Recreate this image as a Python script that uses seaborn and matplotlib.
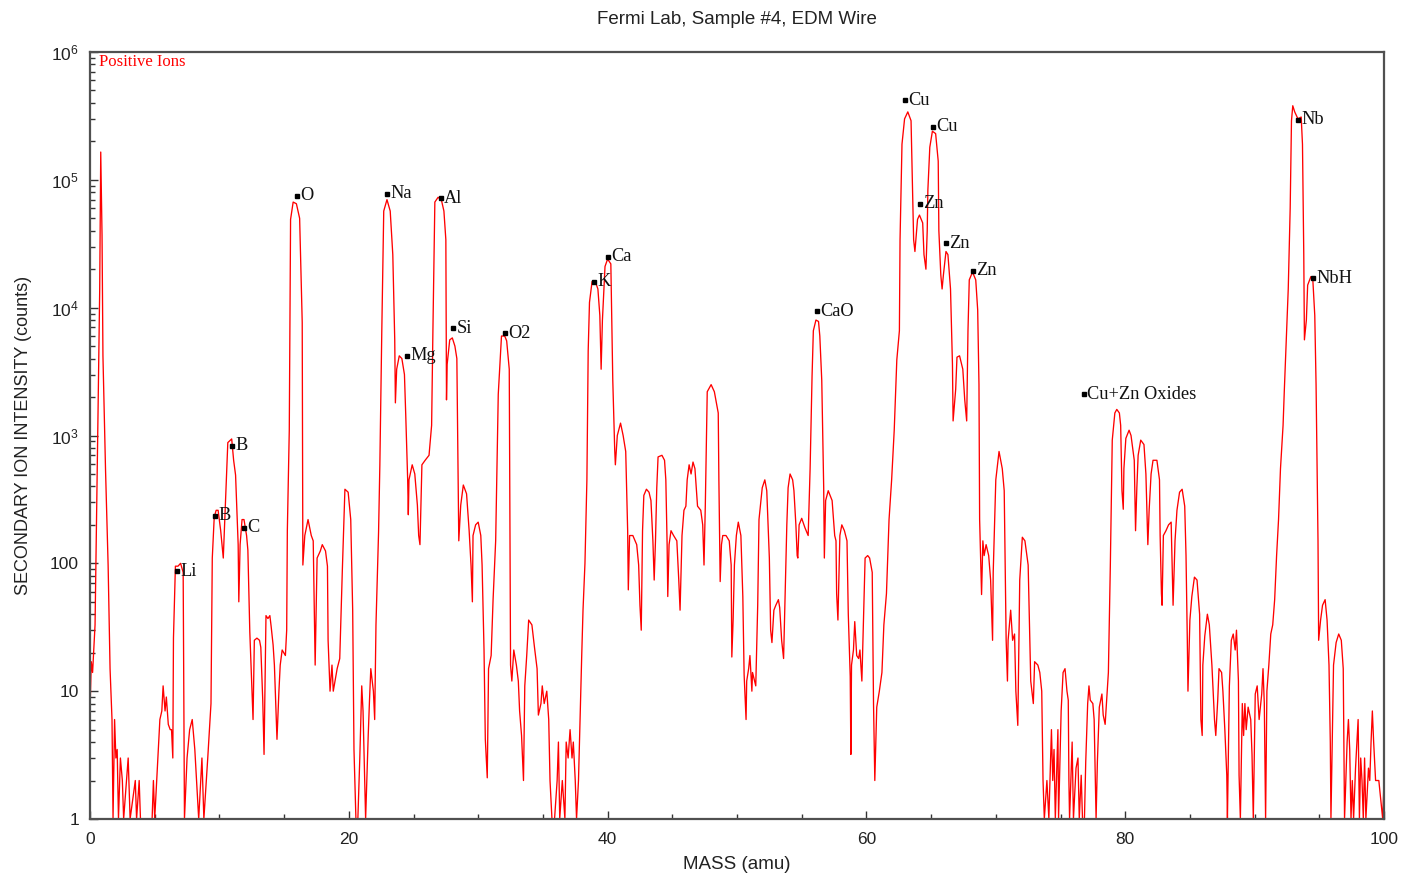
import matplotlib
matplotlib.use("Agg")
import matplotlib.pyplot as plt
import matplotlib.ticker as mticker
import seaborn as sns
import pandas as pd

# ---------------- data (mass in amu, intensity in counts) ----------------
mass_a = [0.0, 0.1, 0.2, 0.39, 0.5, 0.62, 0.75, 0.83, 0.93, 1.0, 1.2, 1.4, 1.55, 1.7, 1.78, 1.9, 2.0, 2.1, 2.2, 2.35,
          2.5, 2.6, 2.95, 3.1, 3.5, 3.6, 3.8, 3.9, 4.8, 4.9, 5.0, 5.25, 5.4, 5.55, 5.65, 5.8, 5.9, 6.05, 6.2, 6.3, 6.4,
          6.45, 6.6, 6.8, 7.0, 7.2, 7.3, 7.5, 7.7, 7.9, 8.1, 8.4, 8.65, 8.8, 9.1, 9.35, 9.45, 9.6, 9.75, 9.9, 10.1,
          10.3, 10.45, 10.65, 10.95, 11.1, 11.25, 11.45, 11.5, 11.6, 11.75, 11.9, 12.1, 12.2, 12.35, 12.5, 12.6,
          12.7, 12.9, 13.1, 13.2, 13.35, 13.45, 13.6, 13.75, 13.9, 14.0, 14.15, 14.25, 14.45, 14.6, 14.7, 14.85,
          15.1, 15.2]
int_a = [7, 17, 14, 33, 200, 1500, 1.4e4, 1.65e5, 3.7e4, 4200, 540, 97, 15, 6, 1, 6, 3, 3.5, 1, 3,
         2, 1, 3, 1, 2, 1, 2, 1, 1, 2, 1, 3, 6, 7, 11, 7, 9, 5.5, 5, 5, 3,
         26, 95, 95, 100, 85, 1, 3, 5, 6, 3.5, 1, 3, 1, 3, 8, 110, 230, 260, 260, 180,
         110, 270, 880, 940, 640, 490, 140, 50, 140, 220, 220, 165, 127, 29, 11, 6,
         25, 26, 25, 22, 8.5, 3.2, 39, 37, 39, 32, 23, 16, 4.2, 10, 16, 21,
         19, 30]

mass_b = [15.25, 15.4, 15.5, 15.7, 15.95, 16.2, 16.4, 16.45, 16.6, 16.85, 17.1, 17.25, 17.4, 17.55, 17.8, 17.95,
          18.2, 18.35, 18.4, 18.55, 18.7, 18.8, 19.1, 19.3, 19.5, 19.7, 19.95, 20.15, 20.3, 20.4, 20.55, 20.7,
          20.85, 21.0, 21.1, 21.3]
int_b = [180, 1100, 4.9e4, 6.7e4, 6.5e4, 5e4, 7700, 97, 165, 220, 165, 150, 16, 110, 125, 140,
         125, 95, 25, 10, 16, 10, 15, 18, 88, 380, 360, 220, 43, 3.5, 1, 1,
         3, 11, 7, 1]

mass_c = [21.5, 21.6, 21.7, 21.9, 22.0, 22.1, 22.2, 22.3, 22.4, 22.55, 22.7, 22.95, 23.2, 23.4, 23.55, 23.6, 23.7,
          23.9, 24.1, 24.3, 24.4, 24.55, 24.6, 24.65, 24.9, 25.1, 25.3, 25.4, 25.5, 25.65, 25.9, 26.2, 26.4, 26.5,
          26.65, 26.9, 27.15, 27.35, 27.5, 27.55, 27.6, 27.8, 28.0, 28.2, 28.35, 28.45, 28.5, 28.65, 28.85, 29.1,
          29.3, 29.45, 29.55, 29.6, 29.8, 30.0, 30.2, 30.3, 30.45, 30.55, 30.7, 30.8, 31.0, 31.15, 31.35, 31.55,
          31.8, 32.05, 32.2, 32.4]
int_c = [4.5, 8.5, 15, 10, 6, 33, 74, 175, 590, 6600, 5.7e4, 7e4, 5.7e4, 2.6e4, 5600, 1800, 3300,
         4200, 4000, 3000, 1450, 450, 240, 450, 590, 500, 285, 165, 140, 590, 640, 700, 1200, 6600,
         6.7e4, 7.3e4, 7e4, 5.7e4, 3.4e4, 1900, 3600, 5600, 5800, 5000, 4000, 500, 150, 285, 410, 350,
         180, 95, 50, 165, 200, 210, 165, 97, 21, 4.2, 2.1, 15, 19, 52, 150, 2100,
         6000, 6000, 5500, 3300]

mass_d = [32.45, 32.5, 32.6, 32.75, 32.95, 33.1, 33.2, 33.35, 33.5, 33.6, 33.75, 33.9, 34.15, 34.35, 34.55, 34.65,
          34.85, 34.95, 35.1, 35.3, 35.45, 35.55, 35.7, 35.9, 36.1, 36.2, 36.3, 36.5, 36.7, 36.8, 36.95, 37.1,
          37.25, 37.35, 37.5, 37.6, 37.75, 37.85, 38.0, 38.1, 38.25, 38.4, 38.5, 38.6, 38.8, 39.05, 39.25, 39.4,
          39.5, 39.6, 39.8, 40.0, 40.25, 40.4, 40.55, 40.6, 40.75, 41.0, 41.2, 41.4, 41.55, 41.6, 41.7, 41.95,
          42.25, 42.4, 42.5, 42.6, 42.7, 42.8, 43.0, 43.2]
int_d = [260, 16, 12, 21, 16, 12, 7, 4.5, 2, 11, 19, 36, 33, 22, 15, 6.5,
         8, 11, 8, 10, 6, 2, 1, 1, 2, 4, 1, 2, 1, 4, 3, 5,
         3, 4, 2, 1, 2, 5, 19, 43, 100, 450, 4600, 1.1e4, 1.6e4, 1.6e4, 1.4e4, 8700,
         3300, 8000, 2.1e4, 2.4e4, 2.2e4, 2700, 770, 590, 1000, 1250, 1000, 750, 180, 62, 165, 165,
         140, 97, 47, 30, 180, 340, 380, 360]

mass_e = [43.35, 43.5, 43.6, 43.7, 43.8, 43.9, 44.2, 44.4, 44.5, 44.6, 44.65, 44.75, 44.9, 45.1, 45.35, 45.5,
          45.6, 45.75, 45.9, 46.05, 46.15, 46.3, 46.45, 46.6, 46.75, 46.95, 47.2, 47.35, 47.45, 47.55, 47.7,
          48.0, 48.25, 48.55, 48.6, 48.7, 48.8, 48.9, 49.15, 49.4, 49.55, 49.6, 49.7, 49.8, 49.95, 50.1, 50.3,
          50.45, 50.55, 50.7, 50.75, 50.9, 51.0, 51.15, 51.2, 51.45, 51.6, 51.7, 51.95, 52.15, 52.3, 52.5, 52.6,
          52.7, 52.85, 53.0, 53.2, 53.3, 53.45, 53.6, 53.7, 53.85]
int_e = [310, 150, 74, 150, 390, 680, 700, 640, 450, 140, 55, 140, 180, 165, 150, 74,
         43, 165, 260, 280, 450, 590, 500, 620, 550, 280, 260, 200, 97, 280, 2200,
         2500, 2200, 1500, 450, 72, 140, 165, 165, 150, 97, 18.5, 36, 97, 165, 210, 165,
         55, 13.5, 6, 12, 15, 19, 10, 14, 11, 47, 220, 390, 450, 370, 110, 30,
         24, 43, 47, 52, 45, 25, 18, 47, 200]

mass_f = [53.95, 54.1, 54.3, 54.4, 54.55, 54.65, 54.7, 54.8, 55.0, 55.25, 55.5, 55.65, 55.8, 55.9, 56.1, 56.3,
          56.4, 56.55, 56.7, 56.75, 56.85, 57.05, 57.35, 57.55, 57.65, 57.7, 57.8, 57.95, 58.1, 58.3, 58.5, 58.6,
          58.75, 58.8, 58.85, 59.0, 59.1, 59.25, 59.4, 59.5, 59.65, 59.75, 59.9, 60.1, 60.25, 60.45, 60.55, 60.65,
          60.8, 61.0, 61.2, 61.35, 61.55, 61.75, 61.95, 62.15, 62.35, 62.55, 62.6, 62.75, 62.95, 63.2, 63.45,
          63.55, 63.65, 63.75, 63.95, 64.1, 64.35, 64.45, 64.6, 64.7]
int_f = [390, 500, 450, 370, 200, 115, 110, 200, 225, 190, 165, 550, 2900, 6600, 8000, 7800,
         6000, 2700, 390, 110, 310, 370, 310, 165, 150, 58, 36, 165, 200, 180, 150, 40,
         13, 3.2, 16, 21, 35, 19, 18, 21, 12, 30, 110, 115, 110, 85, 8, 2,
         7.5, 10, 14, 33, 58, 220, 450, 1100, 3900, 6600, 3.4e4, 1.9e5, 3.0e5, 3.4e5, 2.9e5,
         1e5, 3.4e4, 2.75e4, 4.9e4, 5.3e4, 4.6e4, 2.6e4, 2e4, 4e4]

mass_g = [64.75, 64.9, 65.1, 65.35, 65.55, 65.6, 65.75, 65.85, 65.95, 66.15, 66.3, 66.5, 66.65, 66.7, 66.9, 67.0,
          67.2, 67.45, 67.6, 67.75, 67.85, 67.95, 68.2, 68.45, 68.6, 68.7, 68.75, 68.9, 69.0, 69.1, 69.25, 69.45,
          69.6, 69.75, 69.8, 70.0, 70.25, 70.5, 70.65, 70.8, 70.9, 70.95, 71.15, 71.3, 71.45, 71.55, 71.7, 71.85,
          72.05, 72.25, 72.5, 72.7, 72.9, 73.0, 73.25, 73.4, 73.55, 73.65, 73.75, 73.95, 74.1, 74.3, 74.4, 74.5,
          74.6, 74.8, 74.85, 75.05, 75.2, 75.35, 75.5, 75.6]
int_g = [8.3e4, 1.8e5, 2.4e5, 2.3e5, 1.4e5, 4e4, 1.8e4, 1.4e4, 1.8e4, 2.75e4, 2.6e4, 1.4e4, 3600, 1300, 2300, 4100,
         4200, 3300, 1900, 1300, 6600, 1.65e4, 1.9e4, 1.65e4, 9600, 2500, 220, 57, 150, 115, 140, 115,
         74, 25, 85, 450, 750, 550, 370, 25, 12, 25, 43, 25, 28, 10, 5.4, 74,
         160, 150, 97, 12, 8, 17, 16, 14, 10, 2, 1, 2, 1, 5, 2, 3.5,
         1, 5, 1, 7, 14, 15, 10, 8.5]

mass_h = [75.65, 75.7, 75.9, 76.0, 76.2, 76.35, 76.45, 76.6, 76.7, 76.85, 76.95, 77.1, 77.2, 77.3, 77.5, 77.6,
          77.75, 77.85, 78.0, 78.2, 78.3, 78.45, 78.55, 78.7, 78.85, 79.0, 79.2, 79.35, 79.55, 79.65, 79.75, 79.85,
          79.9, 80.05, 80.3, 80.45, 80.7, 80.8, 80.9, 81.0, 81.2, 81.45, 81.6, 81.75, 81.85, 82.0, 82.15, 82.45,
          82.65, 82.7, 82.8, 82.85, 82.95, 83.15, 83.35, 83.55, 83.65, 83.7, 83.85, 84.0, 84.2, 84.4, 84.6, 84.7,
          84.8, 84.85, 85.0, 85.15, 85.35, 85.55, 85.75, 85.85, 85.95, 86.0, 86.15, 86.35]
int_h = [2, 1, 4, 1, 2.5, 3, 1, 2.2, 1, 1, 2.8, 8, 11, 8.5, 8, 6,
         1, 2.8, 7.5, 9.5, 6.5, 5.5, 8, 14, 95, 920, 1500, 1600, 1500, 1200, 370, 265,
         550, 950, 1100, 1000, 640, 180, 390, 700, 920, 850, 500, 140, 260, 500, 640, 640,
         450, 165, 58, 47, 165, 180, 200, 210, 74, 47, 150, 260, 360, 380, 280, 115,
         25, 10, 36, 55, 78, 74, 40, 6, 4.5, 16, 27, 40]

mass_i = [86.5, 86.7, 86.9, 87.0, 87.15, 87.25, 87.45, 87.55, 87.7, 87.85, 87.9, 88.05, 88.2, 88.35, 88.5, 88.6,
          88.75, 88.8, 88.9, 89.05, 89.15, 89.25, 89.35, 89.5, 89.7, 89.8, 89.9, 90.05, 90.2, 90.35, 90.55, 90.65,
          90.75, 90.85, 90.95, 91.1, 91.25, 91.4, 91.55, 91.7, 91.85, 92.0, 92.2, 92.3, 92.45, 92.6, 92.75, 92.85,
          92.95, 93.1, 93.35, 93.6, 93.7, 93.8, 93.85, 94.0, 94.1, 94.35, 94.5, 94.65, 94.75, 94.9, 94.95, 95.1,
          95.25, 95.45, 95.6, 95.75, 95.85, 95.9, 96.1, 96.3, 96.5, 96.7, 96.85, 96.95, 97.15, 97.25, 97.35, 97.45,
          97.55, 97.65, 97.8, 98.0, 98.1, 98.2, 98.3, 98.4, 98.5, 98.6, 98.8, 98.9, 99.0, 99.1, 99.2, 99.35,
          99.6, 99.9, 100.0]
int_i = [33, 16, 6, 4.5, 8.5, 15, 14, 10, 5, 2.2, 1, 11, 25, 28, 21, 30,
         12, 2.2, 1, 8, 4.5, 8, 5, 7.5, 6, 3.2, 1, 9.5, 11, 6, 9.5, 15,
         8, 1, 10, 16, 28, 33, 52, 115, 220, 550, 1200, 2300, 5600, 1.4e4, 6e4, 2.9e5,
         3.8e5, 3.4e5, 3.0e5, 3.1e5, 1.9e5, 2.6e4, 5600, 8000, 1.5e4, 1.75e4, 1.65e4, 8700, 2500, 150, 25, 36,
         47, 52, 36, 16, 4, 1, 16, 24, 28, 25, 15, 1, 4, 6, 3.5, 1,
         2, 1, 2.5, 6, 1, 3, 2, 1, 3, 1, 2.5, 2, 4, 7, 4, 2,
         2, 1, 2]

# peak labels
peak_labels = ["Li", "B", "B", "C", "O", "Na", "Mg", "Al", "Si", "O2", "K", "Ca", "CaO",
               "Cu", "Zn", "Cu", "Zn", "Zn", "Cu+Zn Oxides", "Nb", "NbH"]
peak_mass = [6.72, 9.66, 10.97, 11.9, 16.0, 22.95, 24.5, 27.1, 28.05, 32.07, 38.95, 40.03, 56.18,
             62.98, 64.14, 65.15, 66.15, 68.24, 76.8, 93.35, 94.5]
peak_int = [87, 235, 830, 190, 7.5e4, 7.8e4, 4.2e3, 7.2e4, 6.9e3, 6.3e3, 1.6e4, 2.5e4, 9.4e3,
            4.2e5, 6.5e4, 2.6e5, 3.2e4, 1.95e4, 2.1e3, 2.95e5, 1.7e4]

x_ticks = [0, 20, 40, 60, 80, 100]
y_ticks = [1, 10, 100, 1e3, 1e4, 1e5, 1e6]
y_tick_labels = ["1", "10", "100", r"$10^3$", r"$10^4$", r"$10^5$", r"$10^6$"]

# ---------------- build frame ----------------
masses = mass_a + mass_b + mass_c + mass_d + mass_e + mass_f + mass_g + mass_h + mass_i
intens = int_a + int_b + int_c + int_d + int_e + int_f + int_g + int_h + int_i
df = pd.DataFrame({"mass": masses, "intensity": intens})

sns.set_theme(style="ticks")
plt.rcParams["font.family"] = ["Liberation Sans", "DejaVu Sans"]
plt.rcParams["mathtext.fontset"] = "custom"
plt.rcParams["mathtext.rm"] = "Liberation Sans"
plt.rcParams["mathtext.it"] = "Liberation Sans"
plt.rcParams["mathtext.default"] = "regular"

fig = plt.figure(figsize=(14.05, 8.81), dpi=100)
ax = fig.add_axes([90 / 1405, 1 - 819 / 881, (1384 - 90) / 1405, (819 - 52) / 881])

sns.lineplot(data=df, x="mass", y="intensity", sort=False, estimator=None,
             color="#ff0000", linewidth=0.95, ax=ax)

ax.set_yscale("log")
ax.set_xlim(0, 100)
ax.set_ylim(1, 1e6)

ax.set_xticks(x_ticks)
ax.set_xticklabels([str(t) for t in x_ticks])
ax.xaxis.set_minor_locator(mticker.MultipleLocator(5))
ax.set_yticks(y_ticks)
ax.set_yticklabels(y_tick_labels)
ax.yaxis.set_minor_locator(mticker.LogLocator(base=10, subs=range(2, 10), numticks=20))
ax.yaxis.set_minor_formatter(mticker.NullFormatter())

ax.tick_params(axis="both", which="both", direction="in", color="#333333",
               top=False, right=False, labelsize=12.5, labelcolor="#222222")
ax.tick_params(axis="both", which="major", length=6, width=1)
ax.tick_params(axis="both", which="minor", length=3.5, width=1)
ax.tick_params(axis="x", which="both", pad=9)
ax.tick_params(axis="y", which="both", pad=8)

for s in ax.spines.values():
    s.set_color("#505050")
    s.set_linewidth(1.6)

ax.set_xlabel("MASS (amu)", fontsize=13.5, color="#222222", labelpad=7)
ax.set_ylabel("SECONDARY ION INTENSITY (counts)", fontsize=13, color="#222222", labelpad=13)
fig.text(737 / 1405, 1 - 19 / 881, "Fermi Lab, Sample #4, EDM Wire", ha="center", va="center",
         fontsize=13.5, color="#222222")

ax.text(0.0068, 0.997, "Positive Ions", transform=ax.transAxes, ha="left", va="top",
        color="#ff0000", fontsize=12, family="Liberation Serif")

ax.plot(peak_mass, peak_int, "s", color="black", markersize=3.2, zorder=5)
for lab, m, v in zip(peak_labels, peak_mass, peak_int):
    ax.annotate(lab, (m, v), xytext=(2.5, 0), textcoords="offset points",
                ha="left", va="center", fontsize=13.2, family="Liberation Serif", color="#111111")

fig.savefig("out.png", dpi=100, facecolor="white")
